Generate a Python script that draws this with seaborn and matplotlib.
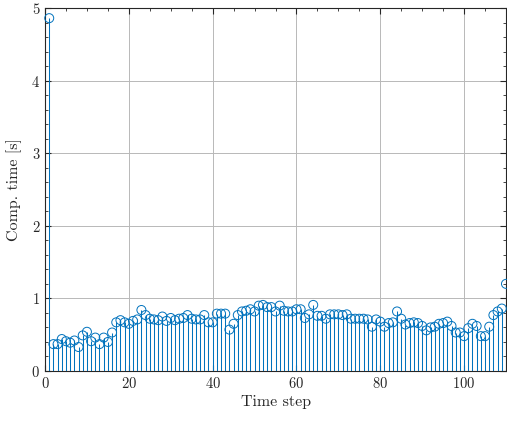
import matplotlib
matplotlib.use("Agg")
import matplotlib.pyplot as plt
from matplotlib.ticker import MultipleLocator
import numpy as np
import pandas as pd
import seaborn as sns

# Computation time per step of the simulation
steps = list(range(1, 111))
comp_time = [
    4.86, 0.37, 0.37, 0.44, 0.41, 0.39, 0.42, 0.33, 0.49, 0.54,
    0.41, 0.46, 0.37, 0.46, 0.40, 0.53, 0.67, 0.70, 0.67, 0.65,
    0.69, 0.71, 0.84, 0.77, 0.72, 0.71, 0.70, 0.75, 0.69, 0.73,
    0.70, 0.72, 0.73, 0.77, 0.72, 0.71, 0.71, 0.77, 0.67, 0.67,
    0.79, 0.79, 0.79, 0.57, 0.65, 0.77, 0.82, 0.83, 0.85, 0.82,
    0.90, 0.91, 0.88, 0.88, 0.82, 0.90, 0.83, 0.82, 0.82, 0.85,
    0.85, 0.73, 0.78, 0.91, 0.76, 0.76, 0.72, 0.78, 0.78, 0.78,
    0.77, 0.78, 0.72, 0.72, 0.72, 0.72, 0.71, 0.61, 0.71, 0.68,
    0.61, 0.66, 0.67, 0.82, 0.72, 0.64, 0.66, 0.67, 0.66, 0.62,
    0.56, 0.60, 0.61, 0.65, 0.66, 0.68, 0.62, 0.53, 0.53, 0.48,
    0.59, 0.65, 0.62, 0.48, 0.48, 0.61, 0.77, 0.82, 0.86, 1.20,
]

x_ticks = [0, 20, 40, 60, 80, 100]
y_ticks = [0, 1, 2, 3, 4, 5]

df = pd.DataFrame({"step": steps, "time": comp_time})

sns.set_theme(style="ticks")
plt.rcParams["font.family"] = ["cmr10", "DejaVu Serif"]
plt.rcParams["mathtext.fontset"] = "cm"
plt.rcParams["axes.unicode_minus"] = False
plt.rcParams["axes.formatter.use_mathtext"] = True

blue = "#0072BD"
fig = plt.figure(figsize=(5.07, 4.21), dpi=100)
ax = fig.add_axes([0.0888, 0.1188, 0.9092, 0.8622])

# stems from the baseline to each value
ax.vlines(df["step"], 0, df["time"], color=blue, linewidth=0.75, zorder=3)
sns.scatterplot(data=df, x="step", y="time", ax=ax, marker="o", s=42,
                facecolor="none", edgecolor=blue, linewidth=0.7,
                zorder=4, clip_on=False, legend=False)

ax.set_xlim(0, 110)
ax.set_ylim(0, 5)
ax.set_xticks(x_ticks)
ax.set_yticks(y_ticks)
ax.xaxis.set_minor_locator(MultipleLocator(5))
ax.yaxis.set_minor_locator(MultipleLocator(0.2))
ax.grid(True, which="major", color="#b8b8b8", linewidth=0.7)
ax.set_axisbelow(True)

ax.tick_params(which="both", direction="in", top=True, right=True,
               colors="#262626", labelcolor="#262626", labelsize=10.5)
ax.tick_params(which="major", length=4, width=0.8)
ax.tick_params(which="minor", length=2.5, width=0.6)
for side in ["left", "bottom", "top", "right"]:
    ax.spines[side].set_color("#262626")
    ax.spines[side].set_linewidth(0.8)

ax.set_xlabel("Time step", fontsize=11.5, color="#262626", labelpad=3)
ax.set_ylabel("Comp. time [s]", fontsize=11.5, color="#262626", labelpad=7)

fig.savefig("out.png", dpi=100)
